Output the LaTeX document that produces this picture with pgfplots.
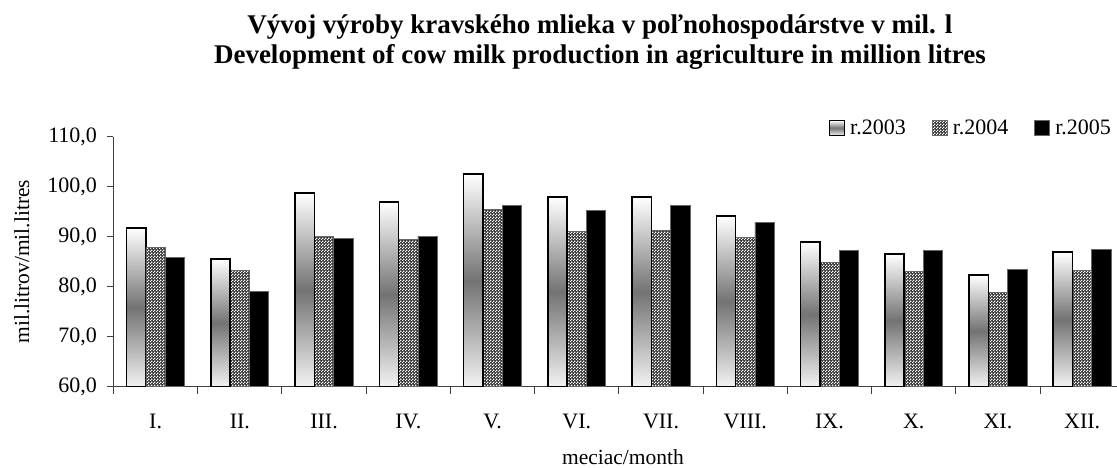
\documentclass[border=0pt]{standalone}
\usepackage{fontspec}
\setmainfont{Liberation Serif}
\usepackage{pgfplots}
\pgfplotsset{compat=1.18}
\usetikzlibrary{patterns}
\pgfdeclarepatternformonly{finechecker}{\pgfpointorigin}{\pgfpoint{3pt}{3pt}}{\pgfpoint{3pt}{3pt}}{%
 \pgfpathrectangle{\pgfpointorigin}{\pgfpoint{1.5pt}{1.5pt}}%
 \pgfpathrectangle{\pgfpoint{1.5pt}{1.5pt}}{\pgfpoint{1.5pt}{1.5pt}}%
 \pgfusepath{fill}}
\pgfplotsset{
 sqlegend/.style={legend image code/.code={\draw[##1, line width=1pt] (0pt,-7.5pt) rectangle (15pt,7.5pt);}},
 bA/.style={sqlegend, bar shift=-19.3pt, draw=black, line width=1.6pt, top color=white, bottom color=black!5, middle color=black!55},
 bB/.style={sqlegend, bar shift=0pt, draw=black!60, line width=0.7pt, fill=black!80, postaction={pattern=finechecker, pattern color=white}},
 bC/.style={sqlegend, bar shift=19.3pt, draw=black!60, line width=0.7pt, fill=black},
}
\begin{document}
\begin{tikzpicture}
\begin{axis}[
 at={(113.5pt,81.3pt)}, anchor=south west,
 width=1010.8pt, height=250pt, scale only axis,
 xmin=-0.5, xmax=11.5, ymin=60, ymax=110,
 ytick={60,70,...,110},
 xtick={0,...,11},
 xticklabels={I.,II.,III.,IV.,V.,VI.,VII.,VIII.,IX.,X.,XI.,XII.},
 minor xtick={-0.5,0.5,...,11.5},
 axis lines*=left,
 axis line style={black!75, line width=1pt},
 tick align=outside,
 major tick length=6pt, minor tick length=7pt,
 major x tick style={draw=none},
 minor x tick style={black!75, line width=1pt},
 major y tick style={black!75, line width=1pt},
 ticklabel style={font=\fontsize{22}{26}\selectfont},
 yticklabel style={xshift=-7pt},
 xticklabel style={yshift=-18pt},
 /pgf/number format/.cd, fixed, fixed zerofill, precision=1, use comma, assume math mode=true,
 /pgfplots/.cd,
 ybar=0pt, bar width=19.3pt,
 title={Vývoj výroby kravského mlieka v poľnohospodárstve v mil. l\\Development of cow milk production in agriculture in million litres},
 title style={at={(0.4812,1.355)}, anchor=center, align=center, font=\bfseries\fontsize{27}{30}\selectfont},
 xlabel={meciac/month},
 xlabel style={at={(0.504,-0.28)}, anchor=center, font=\fontsize{21.5}{24}\selectfont},
 ylabel={mil.litrov/mil.litres},
 ylabel style={at={(-0.0906,0.5)}, anchor=center, font=\fontsize{21.5}{24}\selectfont},
 legend columns=3,
 legend style={draw=none, fill=none, at={(0.989,1.035)}, anchor=east, inner sep=0pt,
   font=\fontsize{22}{26}\selectfont, nodes={inner sep=2pt, anchor=west},
   /tikz/every odd column/.append style={column sep=3pt},
   /tikz/every even column/.append style={column sep=24pt}},
]
% r.2003 (one bar per plot so that every bar gets its own shading)
\addplot[bA] coordinates {(0,91.7)};
% r.2004
\addplot[bB] coordinates {
(0,87.8) (1,83.2) (2,90.1) (3,89.5) (4,95.5) (5,91.1) (6,91.3) (7,89.8) (8,84.8) (9,83.0) (10,78.8) (11,83.2)};
% r.2005
\addplot[bC] coordinates {
(0,85.9) (1,79.0) (2,89.7) (3,90.1) (4,96.2) (5,95.2) (6,96.2) (7,92.9) (8,87.3) (9,87.3) (10,83.4) (11,87.5)};
\addplot[bA, forget plot] coordinates {(1,85.5)};
\addplot[bA, forget plot] coordinates {(2,98.7)};
\addplot[bA, forget plot] coordinates {(3,96.9)};
\addplot[bA, forget plot] coordinates {(4,102.5)};
\addplot[bA, forget plot] coordinates {(5,97.9)};
\addplot[bA, forget plot] coordinates {(6,97.9)};
\addplot[bA, forget plot] coordinates {(7,94.1)};
\addplot[bA, forget plot] coordinates {(8,88.9)};
\addplot[bA, forget plot] coordinates {(9,86.5)};
\addplot[bA, forget plot] coordinates {(10,82.3)};
\addplot[bA, forget plot] coordinates {(11,86.9)};
\legend{r.2003,r.2004,r.2005}
\end{axis}
\pgfresetboundingbox
\useasboundingbox (0,0) rectangle (1117pt,468pt);
\end{tikzpicture}
\end{document}
